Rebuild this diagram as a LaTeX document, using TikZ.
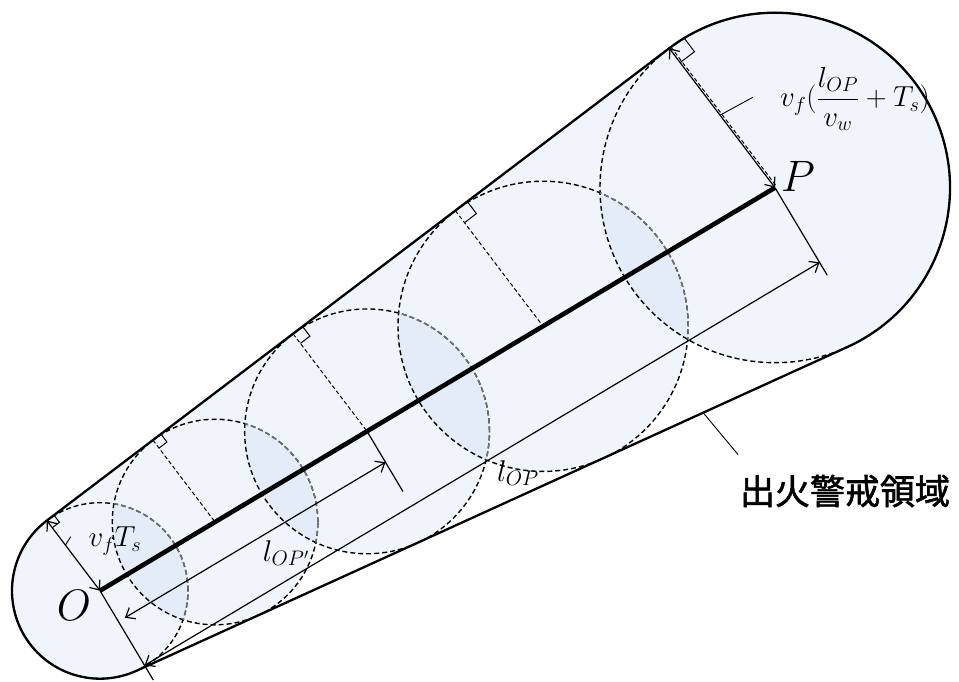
\RequirePackage{fix-cm}
\documentclass[tikz,border=0pt]{standalone}
\usepackage{amsmath}
\usepackage{fontspec}
\newfontfamily\cjk{Noto Sans CJK JP}[FakeBold=1.6]
\usetikzlibrary{calc,arrows.meta}
\definecolor{fillA}{RGB}{240,245,251}
\definecolor{fillB}{RGB}{227,236,248}
\definecolor{dgray}{RGB}{115,115,115}
\begin{document}
\begin{tikzpicture}[x=1pt,y=1pt,
  hull/.style={line width=2.3pt, line join=round},
  axisline/.style={line width=4.6pt},
  dcirc/.style={line width=1.4pt, dash pattern=on 5pt off 3pt},
  rline/.style={line width=1pt, dash pattern=on 4pt off 2.5pt},
  thinline/.style={line width=1.2pt},
  dimarrow/.style={line width=1.2pt, {Straight Barb[length=8pt,width=13pt]}-{Straight Barb[length=8pt,width=13pt]}},
  lead/.style={line width=0.9pt},
  ramark/.style={line width=1pt},
  mathlbl/.style={inner sep=0pt}]

\useasboundingbox (0,0) rectangle (959,682);
\def\A{30.82}
\def\U{127.175}
\def\D{-65.535}
\def\E{37.175}
\def\ra{88}
\def\rb{102.8}
\def\rc{122.4}
\def\rd{145.1}
\def\re{175}
% centres
\coordinate (O) at (100,91.3);
\coordinate (P) at (775,494.3);
\coordinate (C1) at (O);
\coordinate (C2) at ($(O)+(\A:134)$);
\coordinate (C3) at ($(O)+(\A:311)$);
\coordinate (C4) at ($(O)+(\A:516)$);
\coordinate (C5) at (P);
% tangent points
\coordinate (T1) at ($(C1)+(\U:\ra)$);
\coordinate (T2) at ($(C2)+(\U:\rb)$);
\coordinate (T3) at ($(C3)+(\U:\rc)$);
\coordinate (T4) at ($(C4)+(\U:\rd)$);
\coordinate (T5) at ($(C5)+(\U:\re)$);
\coordinate (B1) at ($(C1)+(\D:\ra)$);
\coordinate (B5) at ($(C5)+(\D:\re)$);

% fills
\fill[fillA] (O) -- (T1) -- (T5) -- (P) -- cycle;
\foreach \c/\rr in {C1/\ra,C2/\rb,C3/\rc,C4/\rd,C5/\re}
  \fill[fillA] (\c) circle[radius=\rr];
\foreach \a/\ar/\b/\br in {C1/\ra/C2/\rb,C2/\rb/C3/\rc,C3/\rc/C4/\rd,C4/\rd/C5/\re}{
  \begin{scope}
    \clip (\a) circle[radius=\ar];
    \fill[fillB] (\b) circle[radius=\br];
  \end{scope}
}
% dashed circles
\foreach \c/\rr in {C1/\ra,C2/\rb,C3/\rc,C4/\rd,C5/\re}
  \draw[dcirc] (\c) circle[radius=\rr];
\foreach \a/\ar/\b/\br in {C1/\ra/C2/\rb,C2/\rb/C3/\rc,C3/\rc/C4/\rd,C4/\rd/C5/\re}{
  \begin{scope}
    \clip (\b) circle[radius=\br];
    \draw[dcirc,dgray] (\a) circle[radius=\ar];
  \end{scope}
}
% radius lines
\draw[rline] (T2) -- (C2);
\draw[rline] (T3) -- (C3);
\draw[rline] (T4) -- (C4);
\draw[rline] ($(T5)+(\E:2)$) -- ($(P)+(\E:2)$);
% right-angle marks
\foreach \t/\s in {T1/9,T2/10,T3/12,T4/15,T5/18}
  \draw[ramark] ($(\t)+(\E:\s)$) -- ++(\U+180:\s) -- ++(\E+180:\s);

% hull outline
\draw[hull] (T1) arc[start angle=\U, end angle=294.465, radius=\ra]
  -- (B5) arc[start angle=\D, end angle=\U, radius=\re] -- cycle;

% axis
\draw[axisline] (O) -- (P);

% radii arrows
\draw[dimarrow] (T1) -- (O);
\draw[dimarrow] (T5) -- (P);

% extension lines
\coordinate (XO) at ($(O)+(\A-90:104)$);
\coordinate (XP) at ($(P)+(\A-90:102)$);
\coordinate (XQ) at ($(C3)+(\A-90:70)$);
\draw[thinline] (O) -- (XO);
\draw[thinline] (P) -- (XP);
\draw[thinline] (C3) -- (XQ);
% dimension lines
\coordinate (DO) at ($(O)+(\A-90:87)$);
\coordinate (DP) at ($(P)+(\A-90:87)$);
\coordinate (EO) at ($(O)+(\A:7.5)+(\A-90:36)$);
\coordinate (EQ) at ($(C3)+(\A-90:36)$);
\draw[dimarrow] (DO) -- (DP);
\draw[dimarrow] (EO) -- (EQ);

% leaders
\coordinate (L1a) at ($(O)!0.65!(T1)$);
\coordinate (L1b) at ($(L1a)+(58:10)$);
\coordinate (L2a) at ($(P)!0.52!(T5)$);
\coordinate (L2b) at ($(L2a)+(28.6:37.6)$);
\coordinate (L3a) at ($(B1)!0.797!(B5)$);
\coordinate (L3b) at ($(L3a)+(-50.2:54.7)$);
\draw[lead] (L1a) -- (L1b);
\draw[lead] (L2a) -- (L2b);
\draw[lead] (L3a) -- (L3b);

% labels
\node[mathlbl, font=\fontsize{44}{50}\selectfont] (lO) at (74,77) {$O$};
\node[mathlbl, font=\fontsize{44}{50}\selectfont] (lP) at (798,506) {$P$};
\node[mathlbl, font=\fontsize{29}{34}\selectfont] (lvt) at (115,141) {$v_f T_s$};
\node[mathlbl, font=\fontsize{30}{34}\selectfont] (lop2) at (286,129) {$l_{OP'}$};
\node[mathlbl, font=\fontsize{30}{34}\selectfont] (lop) at (518,209) {$l_{OP}$};
\node[mathlbl, font=\fontsize{29}{34}\selectfont] (lfr) at (855,583) {$v_f(\dfrac{l_{OP}}{v_w}+T_s)$};
\node[inner sep=0pt, font={\cjk\fontsize{35}{42}\selectfont}] (lzone) at (845,191) {出火警戒領域};
\end{tikzpicture}
\end{document}
